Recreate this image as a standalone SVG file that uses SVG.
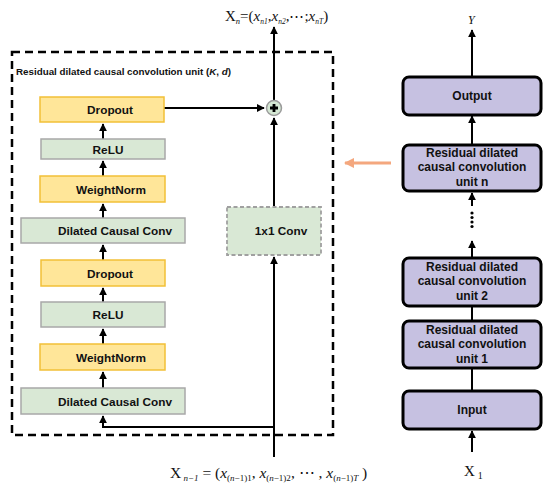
<svg xmlns="http://www.w3.org/2000/svg" width="550" height="496" viewBox="0 0 550 496">
<style>
  .lbl{font-family:"Liberation Sans",Arial,sans-serif;font-weight:bold;font-size:11.8px;fill:#111;text-anchor:middle}
  .rl{font-family:"Liberation Sans",Arial,sans-serif;font-weight:bold;font-size:12px;fill:#111;text-anchor:middle}
  .yel{fill:#FFE699;stroke:#F2C037;stroke-width:1.5}
  .grn{fill:#D9E8D5;stroke:#A8A8A8;stroke-width:1.5}
  .pur{fill:#C6C1E1;stroke:#000;stroke-width:3}
  .ln{stroke:#000;stroke-width:2;fill:none}
  .math{font-family:"Liberation Serif","Times New Roman",serif;fill:#111}
</style>
<defs>
  <marker id="ah" viewBox="0 0 10 10" refX="9" refY="5" markerWidth="4" markerHeight="4" orient="auto">
    <path d="M0,0 L10,5 L0,10 z" fill="#000"/>
  </marker>
  <marker id="oh" viewBox="0 0 10 10" refX="9" refY="5" markerWidth="3.5" markerHeight="3.5" orient="auto">
    <path d="M0,0 L10,5 L0,10 z" fill="#F4A77E"/>
  </marker>
</defs>
<rect width="550" height="496" fill="#fff"/>

<!-- dashed unit frame -->
<g id="unit-frame">
  <rect x="12" y="52" width="321" height="383" fill="none" stroke="#000" stroke-width="2.5" stroke-dasharray="8,5"/>
  <text x="16" y="75" font-family="'Liberation Sans',Arial,sans-serif" font-weight="bold" font-size="9.8" fill="#111">Residual dilated causal convolution unit (<tspan font-style="italic">K</tspan>, <tspan font-style="italic">d</tspan>)</text>
</g>

<!-- connectors -->
<g id="connectors">
  <line class="ln" x1="103" y1="388" x2="103" y2="372" marker-end="url(#ah)"/>
  <line class="ln" x1="103" y1="344" x2="103" y2="329" marker-end="url(#ah)"/>
  <line class="ln" x1="103" y1="302" x2="103" y2="288" marker-end="url(#ah)"/>
  <line class="ln" x1="103" y1="260" x2="103" y2="245" marker-end="url(#ah)"/>
  <line class="ln" x1="103" y1="218" x2="103" y2="204" marker-end="url(#ah)"/>
  <line class="ln" x1="103" y1="176" x2="103" y2="161" marker-end="url(#ah)"/>
  <line class="ln" x1="103" y1="139" x2="103" y2="124" marker-end="url(#ah)"/>
  <polyline class="ln" points="274,457 274,427 103,427 103,416" marker-end="url(#ah)"/>
  <line class="ln" x1="274" y1="427" x2="274" y2="257" marker-end="url(#ah)"/>
  <line class="ln" x1="274" y1="207" x2="274" y2="118" marker-end="url(#ah)"/>
  <line class="ln" x1="164" y1="108" x2="264" y2="108" marker-end="url(#ah)"/>
  <line class="ln" x1="274" y1="100" x2="274" y2="27" marker-end="url(#ah)"/>
  <!-- right column -->
  <line class="ln" x1="472" y1="77" x2="472" y2="30" stroke-width="2.5" marker-end="url(#ah)"/>
  <line class="ln" x1="472" y1="145" x2="472" y2="116" stroke-width="2.5" marker-end="url(#ah)"/>
  <line class="ln" x1="472" y1="206" x2="472" y2="193" stroke-width="2.5" marker-end="url(#ah)"/>
  <g fill="#000">
    <circle cx="472" cy="213" r="1.6"/><circle cx="472" cy="217.5" r="1.6"/><circle cx="472" cy="222" r="1.6"/><circle cx="472" cy="226.5" r="1.6"/>
  </g>
  <line class="ln" x1="472" y1="258" x2="472" y2="241" stroke-width="2.5" marker-end="url(#ah)"/>
  <line class="ln" x1="472" y1="321" x2="472" y2="306" stroke-width="2.5"/>
  <line class="ln" x1="472" y1="391" x2="472" y2="368" stroke-width="2.5"/>
  <line class="ln" x1="472" y1="452" x2="472" y2="431" stroke-width="2.5" marker-end="url(#ah)"/>
  <line x1="391" y1="163" x2="345" y2="163" stroke="#F4A77E" stroke-width="3" marker-end="url(#oh)"/>
</g>

<!-- left column nodes -->
<g id="dropout-top"><rect class="yel" x="40" y="97" width="124" height="25"/><text class="lbl" x="110" y="114">Dropout</text></g>
<g id="relu-top"><rect class="grn" x="41" y="139" width="124" height="20"/><text class="lbl" x="108" y="153.5">ReLU</text></g>
<g id="weightnorm-top"><rect class="yel" x="40" y="176" width="125" height="26"/><text class="lbl" x="111" y="193.5">WeightNorm</text></g>
<g id="dcc-top"><rect class="grn" x="21" y="218" width="164" height="25"/><text class="lbl" x="115" y="235">Dilated Causal Conv</text></g>
<g id="dropout-bottom"><rect class="yel" x="41" y="260" width="124" height="26"/><text class="lbl" x="110" y="277.5">Dropout</text></g>
<g id="relu-bottom"><rect class="grn" x="41" y="302" width="124" height="25"/><text class="lbl" x="108" y="319">ReLU</text></g>
<g id="weightnorm-bottom"><rect class="yel" x="40" y="344" width="125" height="26"/><text class="lbl" x="111" y="361.5">WeightNorm</text></g>
<g id="dcc-bottom"><rect class="grn" x="21" y="388" width="164" height="26"/><text class="lbl" x="115" y="405.5">Dilated Causal Conv</text></g>
<g id="conv1x1"><rect x="227" y="207" width="94" height="48" fill="#D9E8D5" stroke="#A0A0A0" stroke-width="1.8" stroke-dasharray="4,2.5"/><text class="lbl" x="281" y="235">1x1 Conv</text></g>
<g id="add">
  <circle cx="274" cy="108" r="7.5" fill="#D5E8D4" stroke="#9A9A9A" stroke-width="1.5"/>
  <path d="M270,108 H278 M274,104 V112" stroke="#000" stroke-width="2.8"/>
</g>

<!-- right column nodes -->
<g id="output"><rect class="pur" x="403" y="77" width="138" height="38" rx="6"/><text class="rl" x="472" y="100">Output</text></g>
<g id="unit-n"><rect class="pur" x="403" y="145" width="138" height="46" rx="6"/><text class="rl" x="472" y="157">Residual dilated</text><text class="rl" x="472" y="171">causal convolution</text><text class="rl" x="472" y="185.5">unit n</text></g>
<g id="unit-2"><rect class="pur" x="403" y="258" width="138" height="48" rx="6"/><text class="rl" x="472" y="271">Residual dilated</text><text class="rl" x="472" y="285">causal convolution</text><text class="rl" x="472" y="299.5">unit 2</text></g>
<g id="unit-1"><rect class="pur" x="403" y="321" width="138" height="47" rx="6"/><text class="rl" x="472" y="334">Residual dilated</text><text class="rl" x="472" y="348">causal convolution</text><text class="rl" x="472" y="362.5">unit 1</text></g>
<g id="input"><rect class="pur" x="403" y="391" width="138" height="38" rx="6"/><text class="rl" x="472" y="414">Input</text></g>

<!-- math labels -->
<g id="labels">
  <text class="math" x="225" y="21" font-size="15">X<tspan font-size="8.5" font-style="italic" dy="3">n</tspan><tspan dy="-3">=(</tspan><tspan font-style="italic">x</tspan><tspan font-size="7.5" font-style="italic" dy="3">n1</tspan><tspan dy="-3">,</tspan><tspan font-style="italic">x</tspan><tspan font-size="7.5" font-style="italic" dy="3">n2</tspan><tspan dy="-3">,⋯;</tspan><tspan font-style="italic">x</tspan><tspan font-size="7.5" font-style="italic" dy="3">nT</tspan><tspan dy="-3">)</tspan></text>
  <text class="math" x="170" y="478" font-size="15.5">X<tspan font-size="9" font-style="italic" dy="3"> n−1</tspan><tspan dy="-3"> = (</tspan><tspan font-style="italic">x</tspan><tspan font-size="9" dy="3">(<tspan font-style="italic">n</tspan>−1)1</tspan><tspan dy="-3">, </tspan><tspan font-style="italic">x</tspan><tspan font-size="9" dy="3">(<tspan font-style="italic">n</tspan>−1)2</tspan><tspan dy="-3">, ⋯ , </tspan><tspan font-style="italic">x</tspan><tspan font-size="9" dy="3">(<tspan font-style="italic">n</tspan>−1)<tspan font-style="italic">T</tspan></tspan><tspan dy="-3"> )</tspan></text>
  <text class="math" x="468" y="24" font-size="12" font-style="italic">Y</text>
  <text class="math" x="464" y="476" font-size="15">X<tspan font-size="10" dx="3" dy="3">1</tspan></text>
</g>
</svg>
